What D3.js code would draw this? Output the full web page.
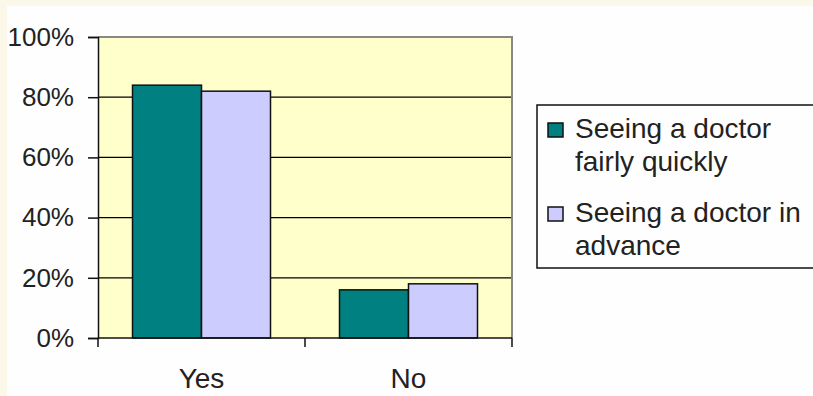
<!DOCTYPE html>
<html>
<head>
<meta charset="utf-8">
<script src="https://cdn.jsdelivr.net/npm/d3@7"></script>
<style>
  html, body { margin: 0; padding: 0; background: #fcf8e9; }
  svg { display: block; }
  .tick text { font-family: "Liberation Sans", Arial, sans-serif; fill: #222; }
</style>
</head>
<body>
<script>
// data
const categories = ["Yes", "No"];
const series = ["Seeing a doctor fairly quickly", "Seeing a doctor in advance"];
const legendLines = [["Seeing a doctor", "fairly quickly"], ["Seeing a doctor in", "advance"]];
const quickly = [84, 16];
const advance = [82, 18];
const yTicks = [0, 20, 40, 60, 80, 100];
const colors = ["#008080", "#ccccff"];

const W = 813, H = 396;
const plotL = 98, plotR = 512, plotT = 37, plotB = 338;

const svg = d3.select("body").append("svg").attr("width", W).attr("height", H);

// white chart area inside the cream page
svg.append("rect").attr("x", 7).attr("y", 6).attr("width", W - 7).attr("height", H - 6).attr("fill", "#fefefe");

const y = d3.scaleLinear().domain([0, 100]).range([plotB, plotT]);
const x0 = d3.scaleBand().domain(categories).range([plotL, plotR]);
const x1 = d3.scaleBand().domain(series).range([0, x0.bandwidth()]).paddingOuter(0.5);

// plot area
svg.append("rect").attr("x", plotL).attr("y", plotT).attr("width", plotR - plotL).attr("height", plotB - plotT)
  .attr("fill", "#ffffcc");

// gridlines
svg.append("g").selectAll("line").data(yTicks.filter(d => d > 0 && d < 100)).enter().append("line")
  .attr("x1", plotL).attr("x2", plotR).attr("y1", d => y(d)).attr("y2", d => y(d))
  .attr("stroke", "#000").attr("stroke-width", 1.2);

// gray border top / right
svg.append("path").attr("d", `M${plotL},${plotT}H${plotR}V${plotB}`)
  .attr("fill", "none").attr("stroke", "#888").attr("stroke-width", 2);

// bars
const rows = categories.map((c, i) => ({cat: c, vals: [quickly[i], advance[i]]}));
const groups = svg.append("g").selectAll("g").data(rows).enter().append("g")
  .attr("transform", d => "translate(" + x0(d.cat) + ",0)");
groups.selectAll("rect").data(d => d.vals.map((v, j) => ({s: series[j], v: v, j: j}))).enter().append("rect")
  .attr("x", d => x1(d.s)).attr("width", x1.bandwidth())
  .attr("y", d => y(d.v)).attr("height", d => y(0) - y(d.v))
  .attr("fill", d => colors[d.j]).attr("stroke", "#111").attr("stroke-width", 1.5);

// y axis
const yAxis = svg.append("g").attr("transform", "translate(" + plotL + ",0)")
  .call(d3.axisLeft(y).tickValues(yTicks).tickFormat(d => d + "%").tickSize(10).tickPadding(14));
yAxis.selectAll("text").attr("font-size", 26);
yAxis.selectAll("line, path").attr("stroke", "#111").attr("stroke-width", 1.5);

// x axis
const xAxis = svg.append("g").attr("transform", "translate(0," + plotB + ")");
xAxis.append("line").attr("x1", plotL).attr("x2", plotR).attr("stroke", "#111").attr("stroke-width", 1.5);
xAxis.selectAll(".xt").data(d3.range(categories.length + 1)).enter().append("line")
  .attr("x1", i => plotL + i * x0.step()).attr("x2", i => plotL + i * x0.step())
  .attr("y1", 0).attr("y2", 9).attr("stroke", "#111").attr("stroke-width", 1.5);
xAxis.selectAll("text").data(categories).enter().append("text")
  .attr("x", d => x0(d) + x0.bandwidth() / 2).attr("y", 50)
  .attr("text-anchor", "middle").attr("font-family", "Liberation Sans, Arial, sans-serif")
  .attr("font-size", 28).attr("fill", "#222").text(d => d);

// legend
const legend = svg.append("g");
legend.append("rect").attr("x", 537).attr("y", 105).attr("width", 290).attr("height", 163)
  .attr("fill", "#fefefe").attr("stroke", "#111").attr("stroke-width", 1.5);
const items = legend.selectAll(".item").data(series).enter().append("g")
  .attr("transform", (d, i) => "translate(548," + (123 + i * 84) + ")");
items.append("rect").attr("width", 15).attr("height", 14)
  .attr("fill", (d, i) => colors[i]).attr("stroke", "#111").attr("stroke-width", 1.5);
items.append("text").attr("font-family", "Liberation Sans, Arial, sans-serif").attr("font-size", 28)
  .attr("fill", "#222")
  .selectAll("tspan").data((d, i) => legendLines[i]).enter().append("tspan")
  .attr("x", 27).attr("y", (d, k) => 15 + k * 33).text(d => d);
</script>
</body>
</html>
